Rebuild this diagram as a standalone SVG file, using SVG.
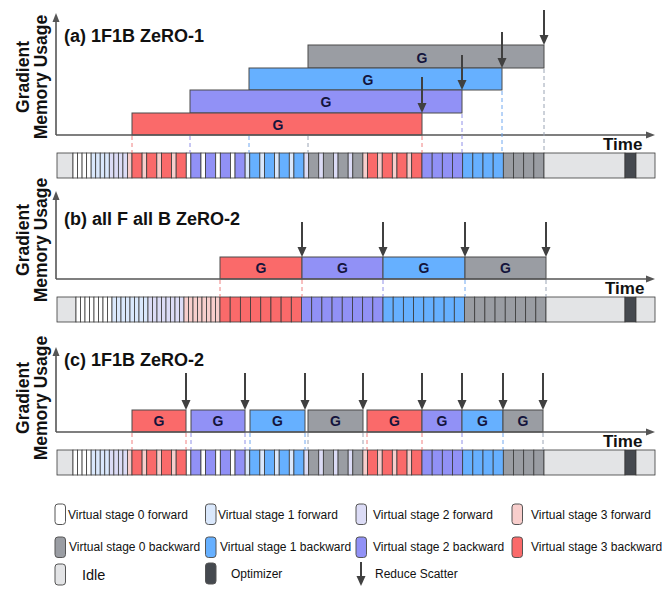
<svg xmlns="http://www.w3.org/2000/svg" xmlns:xlink="http://www.w3.org/1999/xlink" width="667" height="592" viewBox="0 0 667 592">
<style>
text{font-family:"Liberation Sans",Arial,sans-serif;fill:#111}
.ttl{font-size:18px;font-weight:bold}
.ylab{font-size:17.5px;font-weight:bold;text-anchor:middle}
.time{font-size:17px;font-weight:bold}
.g{font-size:14px;font-weight:bold;text-anchor:middle;fill:#14143c}
.leg{font-size:12px}
.c{stroke:#3a3a3a;stroke-width:0.8}
.f0{fill:#ffffff}.f1{fill:#dae8fc}.f2{fill:#dcdcf6}.f3{fill:#f8cecc}
.b0{fill:#9a9da3}.b1{fill:#66b0ff}.b2{fill:#9191f6}.b3{fill:#fa6a6a}
.idle{fill:#e3e4e6}.opt{fill:#45494f}
.blk{stroke:#4a4a4a;stroke-width:1}
.axis{stroke:#555;stroke-width:1.6;fill:none}
.rs{stroke:#404040;stroke-width:2;fill:none}
.d{stroke-width:1;stroke-dasharray:4 3;fill:none}
.dr{stroke:#f08080}.dp{stroke:#9090e8}.db{stroke:#70a8f0}.dg{stroke:#9aa4b4}
.sw{stroke:#555;stroke-width:1}
</style>
<defs>
<marker id="ah" markerWidth="10" markerHeight="10" refX="6" refY="5" orient="auto" markerUnits="userSpaceOnUse"><path d="M0,0.5 L10,5 L0,9.5 z" fill="#404040"/></marker>
<marker id="ax" markerWidth="10" markerHeight="10" refX="4" refY="4" orient="auto" markerUnits="userSpaceOnUse"><path d="M0,0.5 L9,4 L0,7.5 z" fill="#555"/></marker>
<g id="barA">
<rect class="c idle" x="57" width="16" height="25"/>
<rect class="c f0" x="73" width="4.54" height="25"/>
<rect class="c f0" x="77.54" width="4.54" height="25"/>
<rect class="c f0" x="82.08" width="4.54" height="25"/>
<rect class="c f0" x="86.62" width="4.54" height="25"/>
<rect class="c f1" x="91.15" width="4.54" height="25"/>
<rect class="c f1" x="95.69" width="4.54" height="25"/>
<rect class="c f1" x="100.23" width="4.54" height="25"/>
<rect class="c f1" x="104.77" width="4.54" height="25"/>
<rect class="c f2" x="109.31" width="4.54" height="25"/>
<rect class="c f2" x="113.85" width="4.54" height="25"/>
<rect class="c f2" x="118.38" width="4.54" height="25"/>
<rect class="c f2" x="122.92" width="4.54" height="25"/>
<rect class="c f3" x="127.46" width="4.54" height="25"/>
<rect class="c b3" x="132" width="10.1" height="25"/><rect class="c f3" x="142.1" width="4.62" height="25"/>
<rect class="c b3" x="146.72" width="10.1" height="25"/><rect class="c f3" x="156.82" width="4.62" height="25"/>
<rect class="c b3" x="161.44" width="10.1" height="25"/><rect class="c f3" x="171.54" width="4.62" height="25"/>
<rect class="c b3" x="176.16" width="10.1" height="25"/><rect class="c f0" x="186.26" width="4.62" height="25"/>
<rect class="c b2" x="190.88" width="10.1" height="25"/><rect class="c f0" x="200.98" width="4.62" height="25"/>
<rect class="c b2" x="205.6" width="10.1" height="25"/><rect class="c f0" x="215.7" width="4.62" height="25"/>
<rect class="c b2" x="220.32" width="10.1" height="25"/><rect class="c f0" x="230.42" width="4.62" height="25"/>
<rect class="c b2" x="235.04" width="10.1" height="25"/><rect class="c f1" x="245.14" width="4.62" height="25"/>
<rect class="c b1" x="249.76" width="10.1" height="25"/><rect class="c f1" x="259.86" width="4.62" height="25"/>
<rect class="c b1" x="264.48" width="10.1" height="25"/><rect class="c f1" x="274.58" width="4.62" height="25"/>
<rect class="c b1" x="279.2" width="10.1" height="25"/><rect class="c f1" x="289.3" width="4.62" height="25"/>
<rect class="c b1" x="293.92" width="10.1" height="25"/><rect class="c f2" x="304.02" width="4.62" height="25"/>
<rect class="c b0" x="308.64" width="10.1" height="25"/><rect class="c f2" x="318.74" width="4.62" height="25"/>
<rect class="c b0" x="323.36" width="10.1" height="25"/><rect class="c f2" x="333.46" width="4.62" height="25"/>
<rect class="c b0" x="338.08" width="10.1" height="25"/><rect class="c f2" x="348.18" width="4.62" height="25"/>
<rect class="c b0" x="352.8" width="10.1" height="25"/><rect class="c f3" x="362.9" width="4.62" height="25"/>
<rect class="c b3" x="367.52" width="10.1" height="25"/><rect class="c f3" x="377.62" width="4.62" height="25"/>
<rect class="c b3" x="382.24" width="10.1" height="25"/><rect class="c f3" x="392.34" width="4.62" height="25"/>
<rect class="c b3" x="396.96" width="10.1" height="25"/><rect class="c f3" x="407.06" width="4.62" height="25"/>
<rect class="c b3" x="411.68" width="10.32" height="25"/>
<rect class="c b2" x="422" width="10.17" height="25"/>
<rect class="c b2" x="432.17" width="10.17" height="25"/>
<rect class="c b2" x="442.33" width="10.17" height="25"/>
<rect class="c b2" x="452.5" width="10.17" height="25"/>
<rect class="c b1" x="462.67" width="10.17" height="25"/>
<rect class="c b1" x="472.83" width="10.17" height="25"/>
<rect class="c b1" x="483" width="10.17" height="25"/>
<rect class="c b1" x="493.17" width="10.17" height="25"/>
<rect class="c b0" x="503.33" width="10.17" height="25"/>
<rect class="c b0" x="513.5" width="10.17" height="25"/>
<rect class="c b0" x="523.67" width="10.17" height="25"/>
<rect class="c b0" x="533.83" width="10.17" height="25"/>
<rect class="c idle" x="544" width="81" height="25"/>
<rect class="c opt" x="625" width="11" height="25"/>
<rect class="c idle" x="636" width="19" height="25"/>
</g>
</defs>

<!-- Panel (a) -->
<g id="panel-a">
<text class="ylab" transform="translate(29,77) rotate(-90)">Gradient</text>
<text class="ylab" transform="translate(47,77) rotate(-90)">Memory Usage</text>
<text class="ttl" x="64" y="42">(a) 1F1B ZeRO-1</text>
<g id="a-blocks">
<rect class="blk b0" x="308" y="45" width="236" height="23"/>
<rect class="blk b1" x="249" y="68" width="253" height="22"/>
<rect class="blk b2" x="190" y="90" width="272" height="23"/>
<rect class="blk b3" x="132" y="113" width="290" height="22"/>
<text class="g" x="422" y="63">G</text>
<text class="g" x="368" y="85">G</text>
<text class="g" x="326" y="107">G</text>
<text class="g" x="278" y="130">G</text>
</g>
<use id="a-bar" href="#barA" xlink:href="#barA" y="153"/>
<text class="time" x="603" y="150">Time</text>
</g>

<!-- Panel (b) -->
<g id="panel-b">
<text class="ylab" transform="translate(29,240) rotate(-90)">Gradient</text>
<text class="ylab" transform="translate(47,240) rotate(-90)">Memory Usage</text>
<text class="ttl" x="64" y="225">(b) all F all B ZeRO-2</text>
<g id="b-blocks">
<rect class="blk b3" x="220" y="257" width="82" height="22"/>
<rect class="blk b2" x="302" y="257" width="81" height="22"/>
<rect class="blk b1" x="383" y="257" width="82" height="22"/>
<rect class="blk b0" x="465" y="257" width="81" height="22"/>
<text class="g" x="261" y="273">G</text>
<text class="g" x="342.5" y="273">G</text>
<text class="g" x="424" y="273">G</text>
<text class="g" x="505.5" y="273">G</text>
</g>
<g id="b-bar" transform="translate(0,297)">
<rect class="c idle" x="57" width="19" height="25"/>
<rect class="c f0" x="76" width="4.5" height="25"/><rect class="c f0" x="80.5" width="4.5" height="25"/><rect class="c f0" x="85" width="4.5" height="25"/><rect class="c f0" x="89.5" width="4.5" height="25"/>
<rect class="c f0" x="94" width="4.5" height="25"/><rect class="c f0" x="98.5" width="4.5" height="25"/><rect class="c f0" x="103" width="4.5" height="25"/><rect class="c f0" x="107.5" width="4.5" height="25"/>
<rect class="c f1" x="112" width="4.5" height="25"/><rect class="c f1" x="116.5" width="4.5" height="25"/><rect class="c f1" x="121" width="4.5" height="25"/><rect class="c f1" x="125.5" width="4.5" height="25"/>
<rect class="c f1" x="130" width="4.5" height="25"/><rect class="c f1" x="134.5" width="4.5" height="25"/><rect class="c f1" x="139" width="4.5" height="25"/><rect class="c f1" x="143.5" width="4.5" height="25"/>
<rect class="c f2" x="148" width="4.5" height="25"/><rect class="c f2" x="152.5" width="4.5" height="25"/><rect class="c f2" x="157" width="4.5" height="25"/><rect class="c f2" x="161.5" width="4.5" height="25"/>
<rect class="c f2" x="166" width="4.5" height="25"/><rect class="c f2" x="170.5" width="4.5" height="25"/><rect class="c f2" x="175" width="4.5" height="25"/><rect class="c f2" x="179.5" width="4.5" height="25"/>
<rect class="c f3" x="184" width="4.5" height="25"/><rect class="c f3" x="188.5" width="4.5" height="25"/><rect class="c f3" x="193" width="4.5" height="25"/><rect class="c f3" x="197.5" width="4.5" height="25"/>
<rect class="c f3" x="202" width="4.5" height="25"/><rect class="c f3" x="206.5" width="4.5" height="25"/><rect class="c f3" x="211" width="4.5" height="25"/><rect class="c f3" x="215.5" width="4.5" height="25"/>
<rect class="c b3" x="220" width="10.19" height="25"/><rect class="c b3" x="230.19" width="10.19" height="25"/><rect class="c b3" x="240.38" width="10.19" height="25"/><rect class="c b3" x="250.56" width="10.19" height="25"/>
<rect class="c b3" x="260.75" width="10.19" height="25"/><rect class="c b3" x="270.94" width="10.19" height="25"/><rect class="c b3" x="281.13" width="10.19" height="25"/><rect class="c b3" x="291.31" width="10.19" height="25"/>
<rect class="c b2" x="301.5" width="10.19" height="25"/><rect class="c b2" x="311.69" width="10.19" height="25"/><rect class="c b2" x="321.88" width="10.19" height="25"/><rect class="c b2" x="332.06" width="10.19" height="25"/>
<rect class="c b2" x="342.25" width="10.19" height="25"/><rect class="c b2" x="352.44" width="10.19" height="25"/><rect class="c b2" x="362.63" width="10.19" height="25"/><rect class="c b2" x="372.81" width="10.19" height="25"/>
<rect class="c b1" x="383" width="10.19" height="25"/><rect class="c b1" x="393.19" width="10.19" height="25"/><rect class="c b1" x="403.38" width="10.19" height="25"/><rect class="c b1" x="413.56" width="10.19" height="25"/>
<rect class="c b1" x="423.75" width="10.19" height="25"/><rect class="c b1" x="433.94" width="10.19" height="25"/><rect class="c b1" x="444.13" width="10.19" height="25"/><rect class="c b1" x="454.31" width="10.19" height="25"/>
<rect class="c b0" x="464.5" width="10.19" height="25"/><rect class="c b0" x="474.69" width="10.19" height="25"/><rect class="c b0" x="484.88" width="10.19" height="25"/><rect class="c b0" x="495.06" width="10.19" height="25"/>
<rect class="c b0" x="505.25" width="10.19" height="25"/><rect class="c b0" x="515.44" width="10.19" height="25"/><rect class="c b0" x="525.63" width="10.19" height="25"/><rect class="c b0" x="535.81" width="10.19" height="25"/>
<rect class="c idle" x="546" width="79" height="25"/>
<rect class="c opt" x="625" width="11" height="25"/>
<rect class="c idle" x="636" width="19" height="25"/>
</g>
<text class="time" x="605" y="294">Time</text>
</g>

<!-- Panel (c) -->
<g id="panel-c">
<text class="ylab" transform="translate(29,398) rotate(-90)">Gradient</text>
<text class="ylab" transform="translate(47,398) rotate(-90)">Memory Usage</text>
<text class="ttl" x="64" y="366">(c) 1F1B ZeRO-2</text>
<g id="c-blocks">
<rect class="blk b3" x="132" y="410" width="54" height="22"/>
<rect class="blk b2" x="191" y="410" width="54" height="22"/>
<rect class="blk b1" x="250" y="410" width="55" height="22"/>
<rect class="blk b0" x="308" y="410" width="55" height="22"/>
<rect class="blk b3" x="367" y="410" width="55" height="22"/>
<rect class="blk b2" x="422" y="410" width="40" height="22"/>
<rect class="blk b1" x="462" y="410" width="41" height="22"/>
<rect class="blk b0" x="503" y="410" width="40" height="22"/>
<text class="g" x="159" y="426">G</text>
<text class="g" x="218" y="426">G</text>
<text class="g" x="277.5" y="426">G</text>
<text class="g" x="335.5" y="426">G</text>
<text class="g" x="394.5" y="426">G</text>
<text class="g" x="442" y="426">G</text>
<text class="g" x="482.5" y="426">G</text>
<text class="g" x="523" y="426">G</text>
</g>
<use id="c-bar" href="#barA" xlink:href="#barA" y="450"/>
<text class="time" x="603" y="447">Time</text>
</g>

<!-- Connectors: axes, reduce-scatter arrows, dashed guides -->
<g id="connectors">
<line class="axis" x1="56" y1="135" x2="56" y2="18" marker-end="url(#ax)"/>
<line class="axis" x1="56" y1="135" x2="650" y2="135" marker-end="url(#ax)"/>
<line class="axis" x1="56" y1="279" x2="56" y2="196" marker-end="url(#ax)"/>
<line class="axis" x1="56" y1="279" x2="650" y2="279" marker-end="url(#ax)"/>
<line class="axis" x1="56" y1="432" x2="56" y2="352" marker-end="url(#ax)"/>
<line class="axis" x1="56" y1="432" x2="650" y2="432" marker-end="url(#ax)"/>

<line class="rs" x1="422" y1="77" x2="422" y2="109" marker-end="url(#ah)"/>
<line class="rs" x1="462" y1="55" x2="462" y2="86" marker-end="url(#ah)"/>
<line class="rs" x1="502" y1="32" x2="502" y2="64" marker-end="url(#ah)"/>
<line class="rs" x1="544" y1="10" x2="544" y2="41" marker-end="url(#ah)"/>

<line class="rs" x1="302" y1="222" x2="302" y2="253" marker-end="url(#ah)"/>
<line class="rs" x1="383" y1="222" x2="383" y2="253" marker-end="url(#ah)"/>
<line class="rs" x1="465" y1="222" x2="465" y2="253" marker-end="url(#ah)"/>
<line class="rs" x1="546" y1="222" x2="546" y2="253" marker-end="url(#ah)"/>

<line class="rs" x1="186" y1="373" x2="186" y2="406" marker-end="url(#ah)"/>
<line class="rs" x1="245" y1="373" x2="245" y2="406" marker-end="url(#ah)"/>
<line class="rs" x1="305" y1="373" x2="305" y2="406" marker-end="url(#ah)"/>
<line class="rs" x1="363" y1="373" x2="363" y2="406" marker-end="url(#ah)"/>
<line class="rs" x1="422" y1="373" x2="422" y2="406" marker-end="url(#ah)"/>
<line class="rs" x1="462" y1="373" x2="462" y2="406" marker-end="url(#ah)"/>
<line class="rs" x1="503" y1="373" x2="503" y2="406" marker-end="url(#ah)"/>
<line class="rs" x1="543" y1="373" x2="543" y2="406" marker-end="url(#ah)"/>

<line class="d dr" x1="132" y1="136" x2="132" y2="153"/>
<line class="d dp" x1="190" y1="136" x2="190" y2="153"/>
<line class="d db" x1="249" y1="136" x2="249" y2="153"/>
<line class="d dg" x1="308" y1="136" x2="308" y2="153"/>
<line class="d dr" x1="422" y1="136" x2="422" y2="153"/>
<line class="d dp" x1="462" y1="114" x2="462" y2="153"/>
<line class="d db" x1="502" y1="91" x2="502" y2="153"/>
<line class="d dg" x1="544" y1="69" x2="544" y2="153"/>

<line class="d dr" x1="220" y1="280" x2="220" y2="297"/>
<line class="d dr" x1="302" y1="280" x2="302" y2="297"/>
<line class="d dp" x1="383" y1="280" x2="383" y2="297"/>
<line class="d db" x1="465" y1="280" x2="465" y2="297"/>
<line class="d dg" x1="546" y1="280" x2="546" y2="297"/>

<line class="d dr" x1="132" y1="433" x2="132" y2="450"/>
<line class="d dr" x1="186" y1="433" x2="186" y2="450"/>
<line class="d dp" x1="191" y1="433" x2="191" y2="450"/>
<line class="d dp" x1="245" y1="433" x2="245" y2="450"/>
<line class="d db" x1="250" y1="433" x2="250" y2="450"/>
<line class="d db" x1="305" y1="433" x2="305" y2="450"/>
<line class="d dg" x1="308" y1="433" x2="308" y2="450"/>
<line class="d dg" x1="363" y1="433" x2="363" y2="450"/>
<line class="d dr" x1="367" y1="433" x2="367" y2="450"/>
<line class="d dr" x1="422" y1="433" x2="422" y2="450"/>
<line class="d dp" x1="462" y1="433" x2="462" y2="450"/>
<line class="d db" x1="503" y1="433" x2="503" y2="450"/>
<line class="d dg" x1="543" y1="433" x2="543" y2="450"/>
</g>

<!-- Legend -->
<g id="legend">
<rect class="sw f0" x="55" y="504" width="10.5" height="20.5" rx="3"/>
<text class="leg" x="68" y="519">Virtual stage 0 forward</text>
<rect class="sw f1" x="205.5" y="504" width="10.5" height="20.5" rx="3"/>
<text class="leg" x="218" y="519">Virtual stage 1 forward</text>
<rect class="sw f2" x="356" y="504" width="10.5" height="20.5" rx="3"/>
<text class="leg" x="373" y="519">Virtual stage 2 forward</text>
<rect class="sw f3" x="512" y="504" width="10.5" height="20.5" rx="3"/>
<text class="leg" x="531" y="519">Virtual stage 3 forward</text>

<rect class="sw b0" x="55" y="537" width="10.5" height="20.5" rx="3"/>
<text class="leg" x="69" y="551">Virtual stage 0 backward</text>
<rect class="sw b1" x="205.5" y="537" width="10.5" height="20.5" rx="3"/>
<text class="leg" x="220" y="551">Virtual stage 1 backward</text>
<rect class="sw b2" x="356" y="537" width="10.5" height="20.5" rx="3"/>
<text class="leg" x="373" y="551">Virtual stage 2 backward</text>
<rect class="sw b3" x="512" y="537" width="10.5" height="20.5" rx="3"/>
<text class="leg" x="531" y="551">Virtual stage 3 backward</text>

<rect class="sw idle" x="55" y="564" width="10.5" height="21" rx="3"/>
<text x="82" y="580" style="font-size:14.5px">Idle</text>
<rect class="sw opt" x="205.5" y="563" width="10.5" height="21" rx="3"/>
<text class="leg" x="231" y="578">Optimizer</text>
<line class="rs" x1="361" y1="562" x2="361" y2="582" marker-end="url(#ah)"/>
<text class="leg" x="375" y="578">Reduce Scatter</text>
</g>
</svg>
